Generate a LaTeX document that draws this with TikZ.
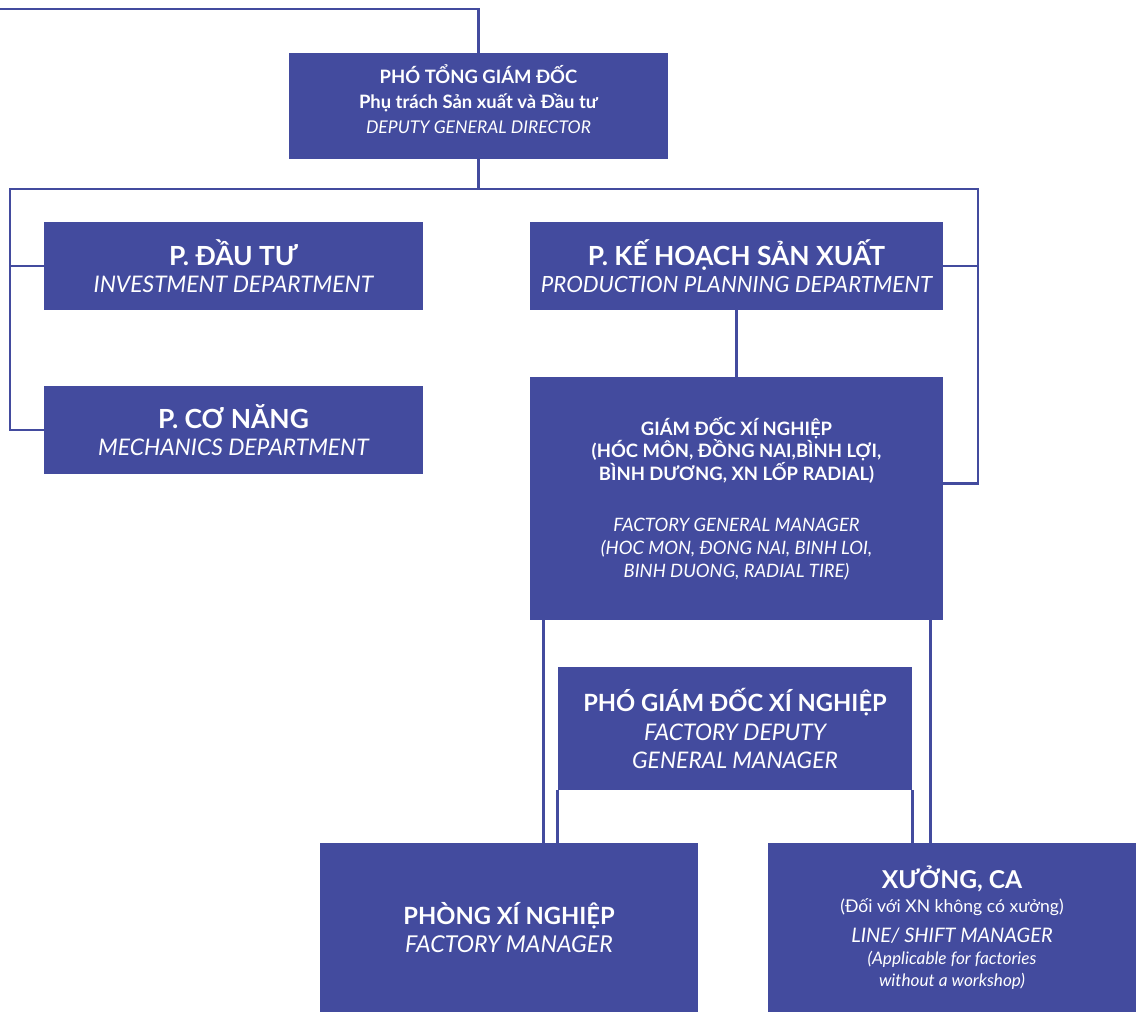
\documentclass[tikz,border=0pt]{standalone}
\usepackage{fontspec}
\setmainfont{Lato}
\usepackage{tikz}
\usetikzlibrary{positioning,calc}
\definecolor{boxblue}{RGB}{67,75,158}
\newcommand{\vnline}[2]{{\fontsize{#1}{#1}\selectfont\bfseries #2}}
\newcommand{\enline}[2]{{\fontsize{#1}{#1}\selectfont\itshape #2}}
\newcommand{\noteline}[2]{{\fontsize{#1}{#1}\selectfont #2}}

\begin{document}
\begin{tikzpicture}[x=0.02cm,y=-0.02cm,
  box/.style={fill=boxblue,text=white,inner sep=0pt,align=center},
  skip/.style={font=\fontsize{10}{#1}\selectfont},
  link/.style={draw=boxblue,line width=1.4pt}]

  \useasboundingbox (0,0) rectangle (1136,1012);

  \node[box,skip=14pt,minimum width=7.58cm,minimum height=2.12cm] (pdtgd) at (478.5,106)
    {\vnline{10.5}{PHÓ TỔNG GIÁM ĐỐC}\\
     \vnline{10.5}{Phụ trách Sản xuất và Đầu tư}\\
     \enline{10}{DEPUTY GENERAL DIRECTOR}\\[-6pt]
     {}};

  \node[box,skip=15pt,minimum width=7.58cm,minimum height=1.76cm] (pdt) at (233.5,266)
    {\vnline{15}{P. ĐẦU TƯ}\\
     \enline{13}{INVESTMENT DEPARTMENT}};

  \node[box,skip=15pt,minimum width=7.58cm,minimum height=1.76cm] (pcn) at (233.5,430)
    {\vnline{15}{P. CƠ NĂNG}\\
     \enline{13}{MECHANICS DEPARTMENT}};

  \node[box,skip=15pt,minimum width=8.26cm,minimum height=1.76cm] (pkh) at (736.5,266)
    {\vnline{15}{P. KẾ HOẠCH SẢN XUẤT}\\
     \enline{12.7}{PRODUCTION PLANNING DEPARTMENT}};

  \node[box,skip=13pt,minimum width=8.26cm,minimum height=4.86cm] (gdxn) at (736.5,498.5)
    {\vnline{10.5}{GIÁM ĐỐC XÍ NGHIỆP}\\
     \vnline{10.5}{(HÓC MÔN, ĐỒNG NAI,BÌNH LỢI,}\\
     \vnline{10.5}{BÌNH DƯƠNG, XN LỐP RADIAL)}\\[16pt]
     \enline{10.5}{FACTORY GENERAL MANAGER}\\
     \enline{10.5}{(HOC MON, ĐONG NAI, BINH LOI,}\\
     \enline{10.5}{BINH DUONG, RADIAL TIRE)}};

  \node[box,skip=16pt,minimum width=7.08cm,minimum height=2.46cm] (pgdxn) at (735,728.5)
    {\vnline{13.5}{PHÓ GIÁM ĐỐC XÍ NGHIỆP}\\
     \enline{13}{FACTORY DEPUTY}\\
     \enline{13}{GENERAL MANAGER}};

  \node[box,skip=16pt,minimum width=7.56cm,minimum height=3.38cm] (pxn) at (509,927.5)
    {\vnline{13.5}{PHÒNG XÍ NGHIỆP}\\
     \enline{13.2}{FACTORY MANAGER}};

  \node[box,skip=12.5pt,minimum width=7.36cm,minimum height=3.38cm] (xca) at (952,927.5)
    {\vnline{14}{XƯỞNG, CA}\\[1pt]
     \noteline{10}{(Đối với XN không có xưởng)}\\[4.5pt]
     \enline{11.4}{LINE/ SHIFT MANAGER}\\
     \enline{9.8}{(Applicable for factories}\\
     \enline{9.8}{without a workshop)}};

  \coordinate (top) at (0,9);
  \coordinate (busL) at (10,189);
  \coordinate (busR) at (978,189);
  \coordinate (gL) at ($(gdxn.south west)+(14,0)$);
  \coordinate (gR) at ($(gdxn.south east)+(-13,0)$);

  \draw[link] (top) -| (pdtgd.north);
  \draw[link] (pdtgd.south) |- (busL) |- (pcn.west);
  \draw[link] (busL) |- (pdt.west);
  \draw[link] (pdtgd.south) |- (busR) |- ($(gdxn.east)+(0,-15)$);
  \draw[link] (busR) |- (pkh.east);
  \draw[link] (pkh) -- (gdxn);
  \draw[link] (gL) -- (gL |- pxn.north);
  \draw[link] (gR) -- (gR |- xca.north);
  \draw[link] (pgdxn.south west) -- (pgdxn.south west |- pxn.north);
  \draw[link] (pgdxn.south east) -- (pgdxn.south east |- xca.north);

\end{tikzpicture}
\end{document}
